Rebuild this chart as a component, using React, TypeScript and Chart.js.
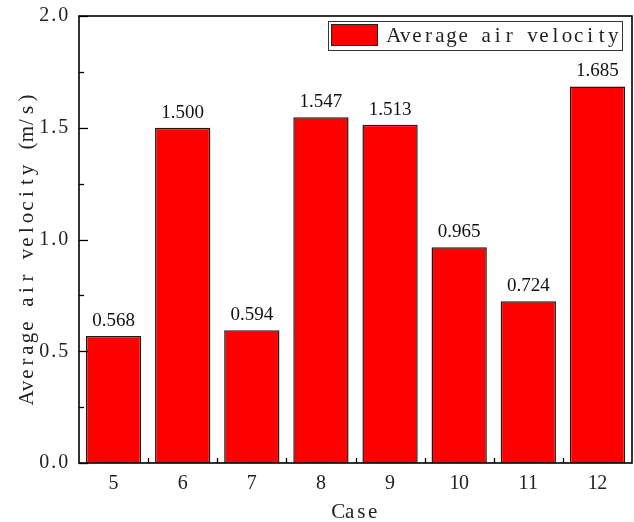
import React, { useEffect, useRef } from "react";
import { Chart, registerables } from "chart.js";

Chart.register(...registerables);

const categories = ["5", "6", "7", "8", "9", "10", "11", "12"];
const velocities = [0.568, 1.5, 0.594, 1.547, 1.513, 0.965, 0.724, 1.685];
const valueLabels = ["0.568", "1.500", "0.594", "1.547", "1.513", "0.965", "0.724", "1.685"];
const yTicks = [0, 0.5, 1.0, 1.5, 2.0];
const yTickLabels = ["0.0", "0.5", "1.0", "1.5", "2.0"];
const seriesName = "Average air velocity";
const yTitle = "Average air velocity (m/s)";
const xTitle = "Case";

const SERIF = "'Liberation Serif', 'Times New Roman', serif";

// draw text in fixed-width cells (emulates a monospaced Song-style Latin face)
function drawCells(ctx: any, text: string, x: number, y: number, cell: number, align: "left" | "center" | "right") {
  const total = cell * text.length;
  let x0 = x;
  if (align === "center") x0 = x - total / 2;
  else if (align === "right") x0 = x - total;
  ctx.textAlign = "center";
  for (let i = 0; i < text.length; i++) {
    ctx.fillText(text[i], x0 + (i + 0.5) * cell, y);
  }
}

const decorPlugin = {
  id: "decor",
  afterDraw(chart: any) {
    const { ctx, chartArea } = chart;
    const { left, right, top, bottom } = chartArea;
    const xs = chart.scales.x;
    const ys = chart.scales.y;
    ctx.save();

    // value labels
    const meta = chart.getDatasetMeta(0);
    ctx.fillStyle = "#111";
    ctx.font = `19px ${SERIF}`;
    ctx.textAlign = "center";
    ctx.textBaseline = "alphabetic";
    meta.data.forEach((bar: any, i: number) => {
      ctx.fillText(valueLabels[i], bar.x, bar.y - 10);
    });

    // frame
    ctx.strokeStyle = "#000";
    ctx.lineWidth = 1.6;
    ctx.strokeRect(left, top, right - left, bottom - top);

    // y ticks (inward)
    ctx.lineWidth = 1.3;
    for (let v = 0; v <= 2.0001; v += 0.25) {
      const py = Math.round(ys.getPixelForValue(v)) + 0.5;
      const major = Math.abs(v * 2 - Math.round(v * 2)) < 1e-6;
      const len = major ? 9 : 5;
      ctx.beginPath();
      ctx.moveTo(left, py);
      ctx.lineTo(left + len, py);
      ctx.stroke();
    }
    // x ticks at category boundaries (inward)
    for (let i = 0; i < categories.length - 1; i++) {
      const px = Math.round((xs.getPixelForValue(i) + xs.getPixelForValue(i + 1)) / 2) + 0.5;
      ctx.beginPath();
      ctx.moveTo(px, bottom);
      ctx.lineTo(px, bottom - 5);
      ctx.stroke();
    }

    // tick labels
    ctx.fillStyle = "#222";
    ctx.font = `20px ${SERIF}`;
    ctx.textBaseline = "middle";
    yTicks.forEach((v, i) => {
      drawCells(ctx, yTickLabels[i], left - 11, ys.getPixelForValue(v), 9.5, "right");
    });
    categories.forEach((c, i) => {
      drawCells(ctx, c, xs.getPixelForValue(i), bottom + 21, 9.5, "center");
    });

    // legend
    const lx = right - 304;
    const ly = top + 5;
    ctx.lineWidth = 1;
    ctx.strokeStyle = "#333";
    ctx.strokeRect(lx + 0.5, ly + 0.5, 294, 29);
    ctx.fillStyle = "#ff0000";
    ctx.fillRect(lx + 3, ly + 3, 47, 22);
    ctx.strokeStyle = "#222";
    ctx.strokeRect(lx + 3.5, ly + 3.5, 46, 21);
    ctx.fillStyle = "#222";
    ctx.font = `21px ${SERIF}`;
    ctx.textBaseline = "middle";
    drawCells(ctx, seriesName, lx + 60, ly + 15, 11.55, "left");

    // axis titles
    ctx.font = `21px ${SERIF}`;
    ctx.textBaseline = "middle";
    drawCells(ctx, xTitle, (left + right) / 2, 512, 11.5, "center");
    ctx.save();
    ctx.translate(27, 248);
    ctx.rotate(-Math.PI / 2);
    drawCells(ctx, yTitle, 0, 0, 12, "center");
    ctx.restore();

    ctx.restore();
  },
};

export default function App() {
  const ref = useRef<HTMLCanvasElement | null>(null);
  useEffect(() => {
    if (!ref.current) return;
    const chart = new Chart(ref.current, {
      type: "bar",
      data: {
        labels: categories,
        datasets: [
          {
            label: seriesName,
            data: velocities,
            backgroundColor: "#ff0000",
            borderColor: "#1a1a1a",
            borderWidth: 1.5,
            categoryPercentage: 0.8,
            barPercentage: 1.0,
          },
        ],
      },
      options: {
        responsive: false,
        animation: false,
        layout: { padding: { top: 16, right: 2, left: 0, bottom: 0 } },
        plugins: {
          legend: { display: false },
          tooltip: { enabled: false },
        },
        scales: {
          x: {
            grid: { display: false, drawTicks: false },
            border: { display: false },
            ticks: { display: false },
            afterFit(scale: any) {
              scale.height = 59;
            },
          },
          y: {
            min: 0,
            max: 2.0,
            grid: { display: false, drawTicks: false },
            border: { display: false },
            ticks: { display: false, stepSize: 0.5 },
            afterFit(scale: any) {
              scale.width = 79;
            },
          },
        },
      },
      plugins: [decorPlugin],
    } as any);
    return () => chart.destroy();
  }, []);
  return (
    <div style={{ position: "absolute", left: 0, top: 0, width: 634, height: 522, background: "#fff" }}>
      <canvas ref={ref} width={634} height={522} style={{ display: "block" }} />
    </div>
  );
}
